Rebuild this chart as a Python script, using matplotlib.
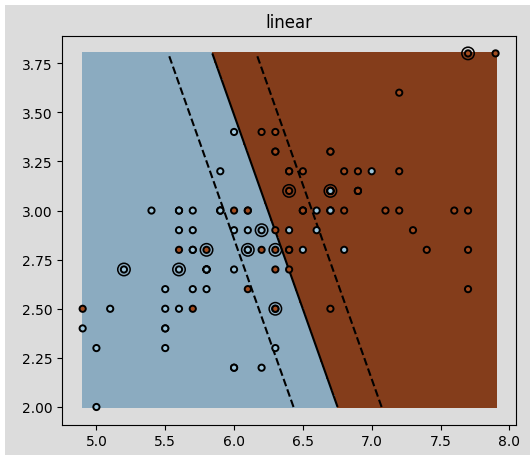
import numpy as np
import matplotlib.pyplot as plt
from matplotlib.colors import ListedColormap
from matplotlib.patches import Rectangle

# sepal length / sepal width, class 1 (versicolor) and class 2 (virginica)
x1 = [7.0, 6.4, 6.9, 5.5, 6.5, 5.7, 6.3, 4.9, 6.6, 5.2, 5.0, 5.9, 6.1, 5.6, 6.7,
      5.6, 5.8, 6.2, 5.6, 5.9, 6.1, 6.3, 6.1, 6.4, 6.6, 6.8, 6.7, 6.0, 5.7, 5.5,
      5.5, 5.8, 6.0, 5.4, 6.0, 6.7, 6.3, 5.6, 5.5, 5.5, 6.1, 5.8, 5.0, 5.6, 5.7,
      5.7, 6.2, 5.1, 5.7]
y1 = [3.2, 3.2, 3.1, 2.3, 2.8, 2.8, 3.3, 2.4, 2.9, 2.7, 2.0, 3.0, 2.9, 2.9, 3.1,
      3.0, 2.7, 2.2, 2.5, 3.2, 2.8, 2.5, 2.8, 2.9, 3.0, 2.8, 3.0, 2.9, 2.6, 2.4,
      2.4, 2.7, 2.7, 3.0, 3.4, 3.1, 2.3, 3.0, 2.5, 2.6, 3.0, 2.6, 2.3, 2.7, 3.0,
      2.9, 2.9, 2.5, 2.8]
x2 = [6.3, 5.8, 7.1, 6.3, 6.5, 7.6, 4.9, 7.3, 6.7, 7.2, 6.5, 6.4, 6.8, 5.7, 5.8,
      6.4, 6.5, 7.7, 7.7, 6.0, 6.9, 5.6, 7.7, 6.3, 6.7, 7.2, 6.2, 6.1, 6.4, 7.2,
      7.4, 7.9, 6.4, 6.3, 6.1, 7.7, 6.3, 6.4, 6.0, 6.9, 6.7, 6.9, 5.8, 6.8, 6.7,
      6.7, 6.3, 6.5, 6.2, 5.9]
y2 = [3.3, 2.7, 3.0, 2.9, 3.0, 3.0, 2.5, 2.9, 2.5, 3.6, 3.2, 2.7, 3.0, 2.5, 2.8,
      3.2, 3.0, 3.8, 2.6, 2.2, 3.2, 2.8, 2.8, 2.7, 3.3, 3.2, 2.8, 3.0, 2.8, 3.0,
      2.8, 3.8, 2.8, 2.8, 2.6, 3.0, 3.4, 3.1, 3.0, 3.1, 3.1, 3.1, 2.7, 3.2, 3.3,
      3.0, 2.5, 3.0, 3.4, 3.0]
# duplicate points whose class-1 copy shows on top
x_top = [6.0, 5.8, 6.7, 6.7, 5.9]
y_top = [2.2, 2.7, 3.0, 3.1, 3.0]
c_top = [1, 1, 1, 1, 1]

# circled test points
xt = [5.2, 5.6, 5.8, 6.1, 6.2, 6.3, 6.3, 6.4, 6.7, 7.7]
yt = [2.7, 2.7, 2.8, 2.8, 2.9, 2.8, 2.5, 3.1, 3.1, 3.8]

# linear decision function
w = [1.5625, 0.79]
b = -12.13

X = np.array(x1 + x2 + x_top)
Y = np.array(y1 + y2 + y_top)
C = np.array([1] * len(x1) + [2] * len(x2) + c_top)

fig = plt.figure(figsize=(5.3, 4.56), dpi=100, facecolor='white')
fig.patches.append(Rectangle((5 / 530, 0), 1, 450 / 456, transform=fig.transFigure,
                             facecolor='#dcdcdc', edgecolor='none', zorder=-10))
ax = fig.add_axes([0.117, 0.0665, 0.857, 0.853])
ax.set_facecolor('#dcdcdc')

pt_cmap = ListedColormap(['#9ec6dc', '#a34c1f'])
ax.scatter(X, Y, c=C, zorder=10, cmap=pt_cmap, edgecolor='k', s=20, linewidths=1.4)
ax.scatter(xt, yt, s=80, facecolors='none', zorder=10, edgecolor='k', linewidths=1.1)

XX, YY = np.mgrid[X.min():X.max():200j, Y.min():Y.max():200j]
Z = w[0] * XX + w[1] * YY + b
ax.pcolormesh(XX, YY, Z > 0, cmap=ListedColormap(['#8babc0', '#843d1b']))
ax.contour(XX, YY, Z, colors=['k', 'k', 'k'], linestyles=['--', '-', '--'],
           levels=[-0.5, 0, 0.5])

ax.set_xlim(4.75, 8.05)
ax.set_ylim(1.91, 3.89)
ax.set_yticks([2.0, 2.25, 2.5, 2.75, 3.0, 3.25, 3.5, 3.75])
ax.set_title('linear')

fig.savefig('out.png', dpi=100)
